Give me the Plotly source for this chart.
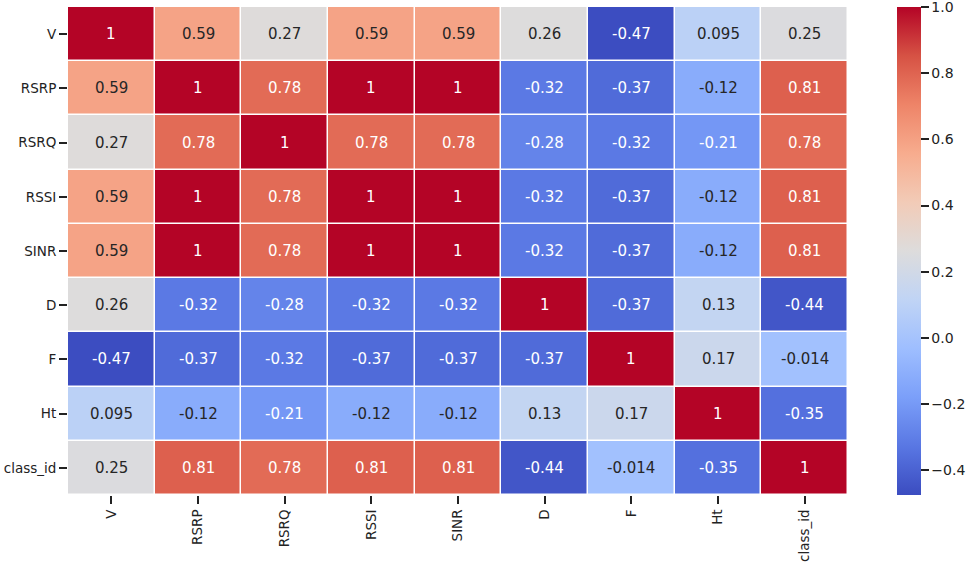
import plotly.graph_objects as go
import numpy as np

labels = ["V", "RSRP", "RSRQ", "RSSI", "SINR", "D", "F", "Ht", "class_id"]
row_V = [1, 0.59, 0.27, 0.59, 0.59, 0.26, -0.47, 0.095, 0.25]
row_RSRP = [0.59, 1, 0.78, 1, 1, -0.32, -0.37, -0.12, 0.81]
row_RSRQ = [0.27, 0.78, 1, 0.78, 0.78, -0.28, -0.32, -0.21, 0.78]
row_RSSI = [0.59, 1, 0.78, 1, 1, -0.32, -0.37, -0.12, 0.81]
row_SINR = [0.59, 1, 0.78, 1, 1, -0.32, -0.37, -0.12, 0.81]
row_D = [0.26, -0.32, -0.28, -0.32, -0.32, 1, -0.37, 0.13, -0.44]
row_F = [-0.47, -0.37, -0.32, -0.37, -0.37, -0.37, 1, 0.17, -0.014]
row_Ht = [0.095, -0.12, -0.21, -0.12, -0.12, 0.13, 0.17, 1, -0.35]
row_class = [0.25, 0.81, 0.78, 0.81, 0.81, -0.44, -0.014, -0.35, 1]
z = [row_V, row_RSRP, row_RSRQ, row_RSSI, row_SINR, row_D, row_F, row_Ht, row_class]

cbar_ticks = [-0.4, -0.2, 0.0, 0.2, 0.4, 0.6, 0.8, 0.99999]
cbar_text = ["\u22120.4", "\u22120.2", "0.0", "0.2", "0.4", "0.6", "0.8", "1.0"]

vmin, vmax = -0.475, 1.0

cw = ["#3b4cc0", "#5977e3", "#7b9ff9", "#9ebeff", "#c0d4f5", "#dddcdc",
      "#f2cbb7", "#f7ac8e", "#ee8468", "#d65244", "#b40426"]
colorscale = [[i / 10, c] for i, c in enumerate(cw)]

def interp_color(v):
    t = (v - vmin) / (vmax - vmin)
    t = min(max(t, 0), 1)
    i = min(int(t * 10), 9)
    f = t * 10 - i
    c1 = np.array([int(cw[i][k:k+2], 16) for k in (1, 3, 5)])
    c2 = np.array([int(cw[i+1][k:k+2], 16) for k in (1, 3, 5)])
    return (c1 + (c2 - c1) * f) / 255.0

def lum(rgb):
    r = [(c / 12.92) if c <= 0.03928 else ((c + 0.055) / 1.055) ** 2.4 for c in rgb]
    return 0.2126 * r[0] + 0.7152 * r[1] + 0.0722 * r[2]

def fmt(v):
    return "{:.2g}".format(v)

L, R, T, B = 68, 121, 7, 70
pw = 969 - L - R

fig = go.Figure(go.Heatmap(
    z=z, x=labels, y=labels, colorscale=colorscale, zmin=vmin, zmax=vmax,
    xgap=1.5, ygap=1.5,
    colorbar=dict(
        x=(897 - L) / pw, xanchor="left", xref="paper", xpad=0, ypad=0,
        y=0, yanchor="bottom", len=1, lenmode="fraction",
        thickness=24, outlinewidth=0,
        tickvals=cbar_ticks, ticktext=cbar_text,
        ticks="outside", ticklen=8, tickwidth=2, tickcolor="#222",
        ticklabeloverflow="allow",
        tickfont=dict(size=14, color="#222"),
    ),
    hoverinfo="skip",
))

annotations = []
for i, rl in enumerate(labels):
    for j, cl in enumerate(labels):
        v = z[i][j]
        col = "#262626" if lum(interp_color(v)) > 0.408 else "white"
        annotations.append(dict(x=cl, y=rl, text=fmt(v), showarrow=False,
                                font=dict(size=15, color=col)))

fig.update_layout(
    width=969, height=565,
    margin=dict(l=L, r=R, t=T, b=B, autoexpand=False),
    paper_bgcolor="white", plot_bgcolor="white",
    font=dict(family="DejaVu Sans", size=13.5, color="#222"),
    annotations=annotations,
    xaxis=dict(tickangle=-90, ticks="outside", ticklen=8, tickwidth=2,
               tickcolor="#222", showgrid=False, zeroline=False, showline=False),
    yaxis=dict(autorange="reversed", ticks="outside", ticklen=8, tickwidth=2,
               tickcolor="#222", showgrid=False, zeroline=False, showline=False),
)

fig.write_html("out.html", config={"displayModeBar": False},
               post_script="document.body.style.margin='0';document.body.style.overflow='hidden';")
